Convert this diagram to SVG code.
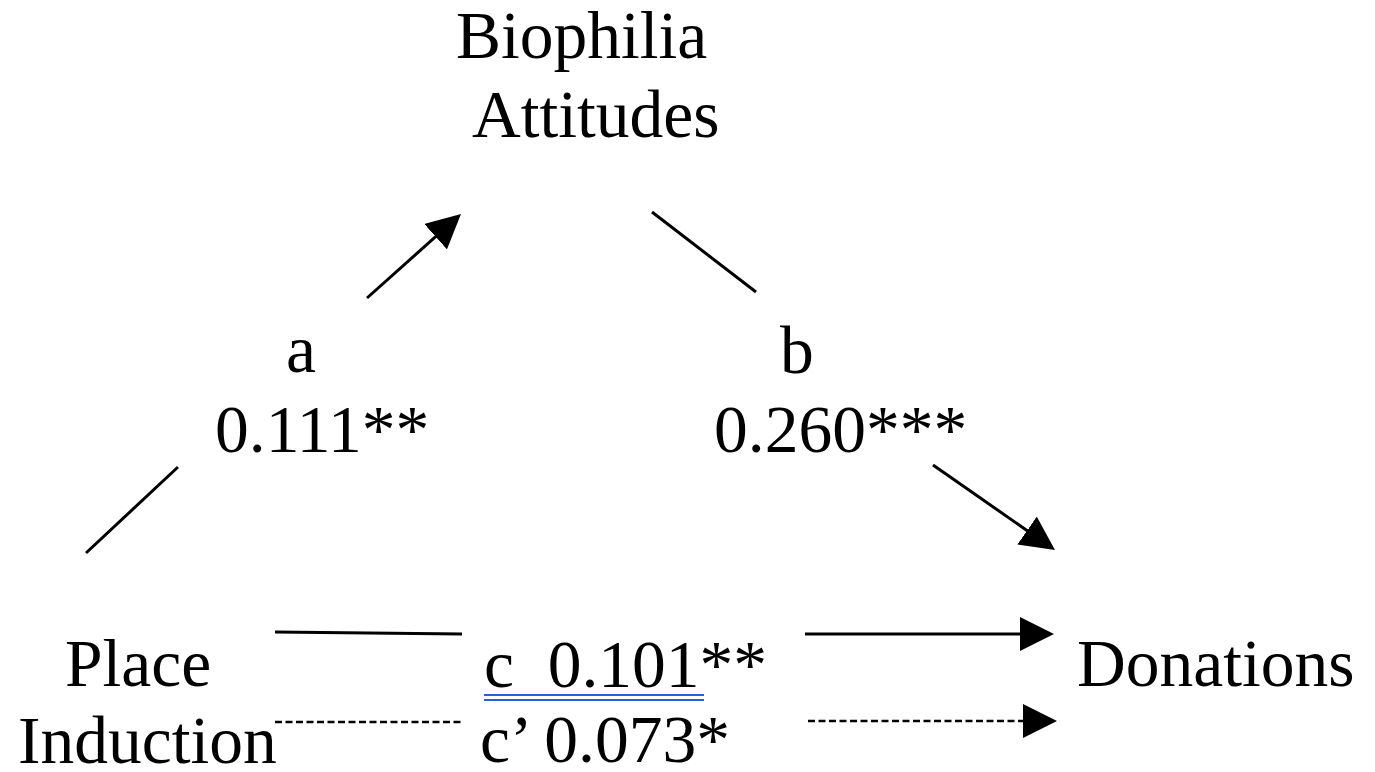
<svg xmlns="http://www.w3.org/2000/svg" width="1375" height="772" viewBox="0 0 1375 772">
  <style>
    text { font-family: "Liberation Serif", "Times New Roman", serif; font-size: 67.5px; fill: #000; white-space: pre; }
    .ln { stroke: #000; stroke-width: 3; fill: none; stroke-linecap: butt; }
    .dash { stroke: #000; stroke-width: 2.6; fill: none; stroke-dasharray: 7 3.5; }
    .ul { stroke: #2b5fd9; stroke-width: 2; fill: none; }
  </style>
  <defs>
    <marker id="head" markerUnits="userSpaceOnUse" viewBox="0 0 34 34" markerWidth="34" markerHeight="34" refX="6" refY="17" orient="auto">
      <path d="M0,0 L34,17 L0,34 Z" fill="#000"/>
    </marker>
  </defs>
  <rect width="1375" height="772" fill="#fff"/>

  <g id="node-biophilia">
    <text x="456" y="58">Biophilia</text>
    <text x="472" y="137">Attitudes</text>
  </g>
  <g id="node-place-induction">
    <text x="65" y="686">Place</text>
    <text x="18" y="763">Induction</text>
  </g>
  <g id="node-donations">
    <text x="1077" y="686">Donations</text>
  </g>

  <g id="connectors">
    <line class="ln" x1="86" y1="553" x2="178" y2="467"/>
    <line class="ln" x1="367" y1="298" x2="440.1" y2="232.7" marker-end="url(#head)"/>
    <line class="ln" x1="652" y1="212" x2="756" y2="292"/>
    <line class="ln" x1="933" y1="465" x2="1032" y2="534" marker-end="url(#head)"/>
    <line class="ln" x1="275" y1="632" x2="462" y2="634"/>
    <line class="ln" x1="805" y1="634" x2="1026" y2="634" marker-end="url(#head)"/>
    <line class="dash" x1="275" y1="722" x2="462" y2="722"/>
    <line class="dash" x1="808" y1="721" x2="1029" y2="721" marker-end="url(#head)"/>
  </g>

  <g id="edge-labels">
    <text x="286" y="372">a</text>
    <text x="215" y="452">0.111**</text>
    <text x="780" y="373">b</text>
    <text x="714" y="452">0.260***</text>
    <text x="484" y="687">c  0.101**</text>
    <line class="ul" x1="484" y1="695" x2="704" y2="695"/>
    <line class="ul" x1="484" y1="700" x2="704" y2="700"/>
    <text x="480" y="762">c’ 0.073*</text>
  </g>
</svg>
